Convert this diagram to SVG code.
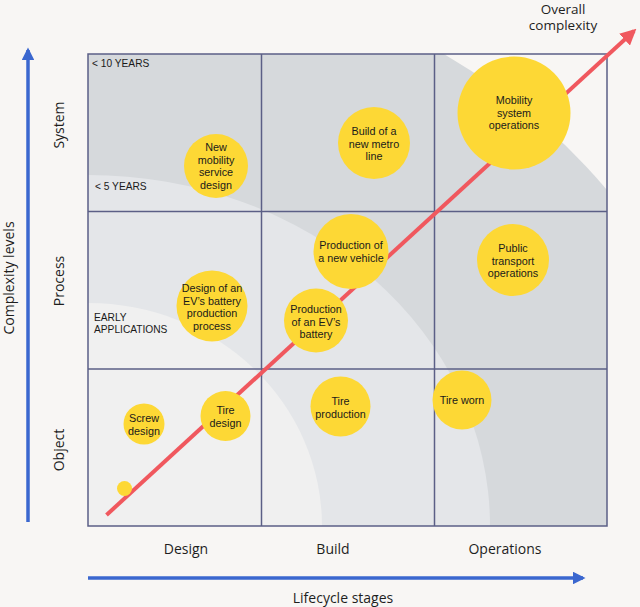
<svg xmlns="http://www.w3.org/2000/svg" width="640" height="607" viewBox="0 0 640 607">
<defs>
<style>
.ax{font-family:"Open Sans","Noto Sans",sans-serif;font-size:14px;fill:#1e1e1e}
.ov{font-family:"Open Sans","Noto Sans",sans-serif;font-size:13.5px;fill:#1e1e1e;text-anchor:middle}
.lb{font-family:"Liberation Sans",Arial,sans-serif;font-size:10.8px;fill:#1a1a1a;text-anchor:middle}
.zn{font-family:"Liberation Sans",Arial,sans-serif;font-size:10.2px;fill:#1a1a1a}
.dot{fill:#fdd835}
.grid{fill:none;stroke:#5b5f86;stroke-width:1.5}
</style>
<clipPath id="gc"><rect x="88" y="54" width="519" height="472"/></clipPath>
<marker id="ab" viewBox="0 0 10 10" refX="8" refY="5" markerWidth="3.6" markerHeight="3.6" orient="auto" markerUnits="strokeWidth"><path d="M0,0 L10,5 L0,10 z" fill="#3b67cf"/></marker>
<marker id="ar" viewBox="0 0 10 10" refX="8" refY="5" markerWidth="4" markerHeight="4" orient="auto" markerUnits="strokeWidth"><path d="M0,0 L10,5 L0,10 z" fill="#f0585e"/></marker>
</defs>
<rect width="640" height="607" fill="#f8f6f4"/>
<g id="zones" clip-path="url(#gc)">
<rect x="88" y="54" width="519" height="472" fill="#f8f6f4"/>
<ellipse cx="88" cy="526" rx="645" ry="566" fill="#d6d9dc"/>
<ellipse cx="88" cy="526" rx="402" ry="351" fill="#e4e6e9"/>
<ellipse cx="88" cy="526" rx="234" ry="223" fill="#f0f0f0"/>
</g>
<g id="grid">
<rect class="grid" x="88" y="54" width="519" height="472"/>
<line class="grid" x1="261.5" y1="54" x2="261.5" y2="526"/>
<line class="grid" x1="434.5" y1="54" x2="434.5" y2="526"/>
<line class="grid" x1="88" y1="211.5" x2="607" y2="211.5"/>
<line class="grid" x1="88" y1="369" x2="607" y2="369"/>
</g>
<g id="zone-labels">
<text class="zn" x="92" y="67">&lt; 10 YEARS</text>
<text class="zn" x="95" y="190">&lt; 5 YEARS</text>
<text class="zn" x="94" y="321">EARLY</text>
<text class="zn" x="94" y="332.5">APPLICATIONS</text>
</g>
<g id="connectors">
<line x1="106.5" y1="515" x2="634" y2="31" stroke="#f0585e" stroke-width="4" marker-end="url(#ar)"/>
<line x1="28" y1="522" x2="28" y2="50" stroke="#3b67cf" stroke-width="3.5" marker-end="url(#ab)"/>
<line x1="88" y1="578" x2="583" y2="578" stroke="#3b67cf" stroke-width="3.5" marker-end="url(#ab)"/>
</g>
<g id="axis-labels">
<text class="ov" x="563" y="14">Overall</text>
<text class="ov" x="563" y="30">complexity</text>
<text class="ax" x="186" y="554" text-anchor="middle">Design</text>
<text class="ax" x="333" y="554" text-anchor="middle">Build</text>
<text class="ax" x="505" y="554" text-anchor="middle">Operations</text>
<text class="ax" x="343" y="603" text-anchor="middle">Lifecycle stages</text>
<text class="ax" transform="translate(14,278) rotate(-90)" text-anchor="middle">Complexity levels</text>
<text class="ax" transform="translate(64,125) rotate(-90)" text-anchor="middle">System</text>
<text class="ax" transform="translate(64,281) rotate(-90)" text-anchor="middle">Process</text>
<text class="ax" transform="translate(64,450) rotate(-90)" text-anchor="middle">Object</text>
</g>
<g id="n-new-mobility"><circle class="dot" cx="216" cy="166" r="32"/><text class="lb" x="216" y="151">New</text><text class="lb" x="216" y="163.5">mobility</text><text class="lb" x="216" y="176">service</text><text class="lb" x="216" y="188.5">design</text></g>
<g id="n-metro"><circle class="dot" cx="374" cy="143" r="36"/><text class="lb" x="374" y="135">Build of a</text><text class="lb" x="374" y="147.5">new metro</text><text class="lb" x="374" y="160">line</text></g>
<g id="n-mobility-ops"><circle class="dot" cx="514" cy="113" r="56.5"/><text class="lb" x="514" y="104">Mobility</text><text class="lb" x="514" y="116.5">system</text><text class="lb" x="514" y="129">operations</text></g>
<g id="n-battery-process"><circle class="dot" cx="212" cy="306" r="35.5"/><text class="lb" x="212" y="292">Design of an</text><text class="lb" x="212" y="304.5">EV’s battery</text><text class="lb" x="212" y="317">production</text><text class="lb" x="212" y="329.5">process</text></g>
<g id="n-new-vehicle"><circle class="dot" cx="351" cy="251.5" r="37.5"/><text class="lb" x="351" y="249">Production of</text><text class="lb" x="351" y="261.5">a new vehicle</text></g>
<g id="n-battery"><circle class="dot" cx="316" cy="320.5" r="32"/><text class="lb" x="316" y="313">Production</text><text class="lb" x="316" y="325.5">of an EV’s</text><text class="lb" x="316" y="338">battery</text></g>
<g id="n-public-transport"><circle class="dot" cx="513" cy="260" r="36"/><text class="lb" x="513" y="252">Public</text><text class="lb" x="513" y="264.5">transport</text><text class="lb" x="513" y="277">operations</text></g>
<g id="n-screw"><circle class="dot" cx="144" cy="424" r="20.5"/><text class="lb" x="144" y="422">Screw</text><text class="lb" x="144" y="434.5">design</text></g>
<g id="n-tire-design"><circle class="dot" cx="225.5" cy="416" r="25"/><text class="lb" x="225.5" y="414">Tire</text><text class="lb" x="225.5" y="426.5">design</text></g>
<g id="n-dot"><circle class="dot" cx="124.5" cy="488.5" r="7.5"/></g>
<g id="n-tire-production"><circle class="dot" cx="340.5" cy="406.5" r="30"/><text class="lb" x="340.5" y="405">Tire</text><text class="lb" x="340.5" y="417.5">production</text></g>
<g id="n-tire-worn"><circle class="dot" cx="462" cy="400" r="29.5"/><text class="lb" x="462" y="404">Tire worn</text></g>
</svg>
